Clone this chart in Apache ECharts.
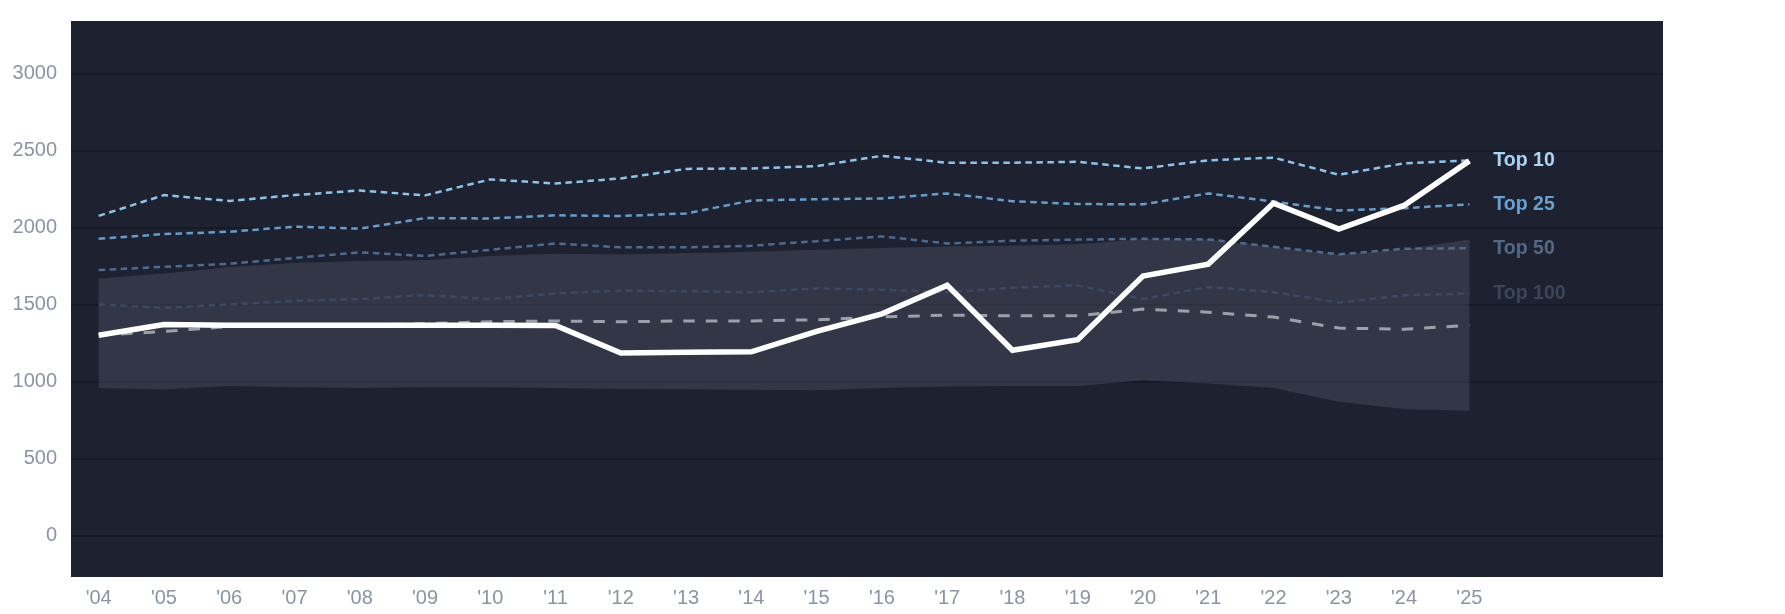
<!DOCTYPE html>
<html>
<head>
<meta charset="utf-8">
<script src="https://cdn.jsdelivr.net/npm/echarts@6/dist/echarts.min.js"></script>
<style>
  html, body { margin: 0; padding: 0; background: #ffffff; }
  #chart { width: 1785px; height: 614px; }
</style>
</head>
<body>
<div id="chart"></div>
<script>
const years = [2004, 2005, 2006, 2007, 2008, 2009, 2010, 2011, 2012, 2013, 2014, 2015, 2016, 2017, 2018, 2019, 2020, 2021, 2022, 2023, 2024, 2025];
const yTicks = [0, 500, 1000, 1500, 2000, 2500, 3000];

const top10  = [2075, 2210, 2172, 2210, 2240, 2208, 2312, 2285, 2318, 2380, 2383, 2398, 2465, 2420, 2420, 2426, 2383, 2436, 2453, 2342, 2416, 2435];
const top25  = [1926, 1957, 1972, 2005, 1992, 2061, 2058, 2079, 2074, 2091, 2175, 2183, 2188, 2221, 2170, 2152, 2150, 2221, 2168, 2110, 2125, 2150];
const top50  = [1724, 1744, 1764, 1802, 1838, 1815, 1855, 1896, 1871, 1871, 1881, 1911, 1942, 1896, 1914, 1921, 1926, 1922, 1874, 1825, 1862, 1865];
const top100 = [1500, 1478, 1500, 1523, 1535, 1561, 1535, 1571, 1591, 1586, 1579, 1604, 1596, 1579, 1609, 1624, 1535, 1614, 1580, 1512, 1560, 1571];
const median = [1300, 1325, 1357, 1362, 1365, 1376, 1388, 1393, 1388, 1393, 1393, 1401, 1419, 1431, 1426, 1426, 1470, 1450, 1418, 1347, 1339, 1365];
const player = [1300, 1370, 1365, 1365, 1365, 1365, 1365, 1363, 1185, 1190, 1193, 1325, 1439, 1624, 1203, 1272, 1685, 1762, 2158, 1990, 2143, 2432];
const bandLow  = [958, 948, 970, 962, 957, 962, 962, 957, 952, 949, 947, 944, 957, 967, 970, 970, 1008, 987, 957, 868, 822, 810];
const bandHigh = [1669, 1701, 1744, 1769, 1782, 1787, 1815, 1830, 1825, 1833, 1843, 1855, 1866, 1876, 1881, 1891, 1924, 1922, 1872, 1822, 1858, 1922];

const pairs = arr => years.map((y, i) => [y, arr[i]]);
const bandData = years.map((y, i) => [y, bandLow[i], bandHigh[i]]);

const labelFont = 'Liberation Sans, Arial, sans-serif';

function topLine(name, data, lineColor, labelColor, z) {
  return {
    name: name,
    type: 'line',
    data: pairs(data),
    symbol: 'none',
    z: z,
    lineStyle: { color: lineColor, width: 2.5, type: [6.5, 4.5] },
    endLabel: {
      show: true,
      formatter: name,
      color: labelColor,
      fontSize: 19.5,
      fontWeight: 'bold',
      fontFamily: labelFont,
      distance: 24
    },
    emphasis: { disabled: true },
    silent: true
  };
}

const chart = echarts.init(document.getElementById('chart'), null, { renderer: 'canvas' });
chart.setOption({
  backgroundColor: '#ffffff',
  animation: false,
  grid: {
    left: 71, top: 21, right: 122, bottom: 37,
    show: true, backgroundColor: '#1e2230', borderWidth: 0,
    outerBoundsMode: 'none'
  },
  xAxis: {
    type: 'value',
    min: 2003.576,
    max: 2027.967,
    axisLine: { show: false },
    axisTick: { show: false, customValues: years },
    splitLine: { show: false },
    axisLabel: {
      customValues: years,
      formatter: v => "'" + String(Math.round(v)).slice(2),
      color: '#8b93a5',
      fontSize: 20,
      fontFamily: labelFont,
      margin: 11
    }
  },
  yAxis: {
    type: 'value',
    min: -269,
    max: 3340,
    axisLine: { show: false },
    axisTick: { show: false, customValues: yTicks },
    axisLabel: {
      customValues: yTicks,
      formatter: v => String(v),
      color: '#8b93a5',
      fontSize: 20,
      fontFamily: labelFont,
      margin: 14
    },
    splitLine: { show: true, lineStyle: { color: '#161a24', width: 2 } }
  },
  series: [
    {
      name: 'band', type: 'custom', data: bandData, z: 1, silent: true,
      encode: { x: 0, y: [1, 2] },
      renderItem: function (params, api) {
        if (params.dataIndex !== 0) return null;
        const pts = [];
        for (let i = 0; i < years.length; i++) pts.push(api.coord([years[i], bandHigh[i]]));
        for (let i = years.length - 1; i >= 0; i--) pts.push(api.coord([years[i], bandLow[i]]));
        return {
          type: 'polygon',
          shape: { points: pts },
          style: { fill: 'rgba(75, 80, 98, 0.45)' }
        };
      }
    },
    topLine('Top 100', top100, '#3c4862', '#3b4559', 2),
    topLine('Top 50', top50, '#4e6a8e', '#53698a', 3),
    topLine('Top 25', top25, '#679dcb', '#6aa0d0', 4),
    topLine('Top 10', top10, '#8ec4ec', '#a9d4f5', 5),
    {
      name: 'median', type: 'line', data: pairs(median), symbol: 'none', z: 6,
      lineStyle: { color: '#9ca0a9', width: 3, type: [11.5, 11] }, silent: true
    },
    {
      name: 'player', type: 'line', data: pairs(player), symbol: 'none', z: 7,
      lineStyle: { color: '#ffffff', width: 5.5, join: 'miter' }, silent: true
    }
  ]
});
</script>
</body>
</html>
